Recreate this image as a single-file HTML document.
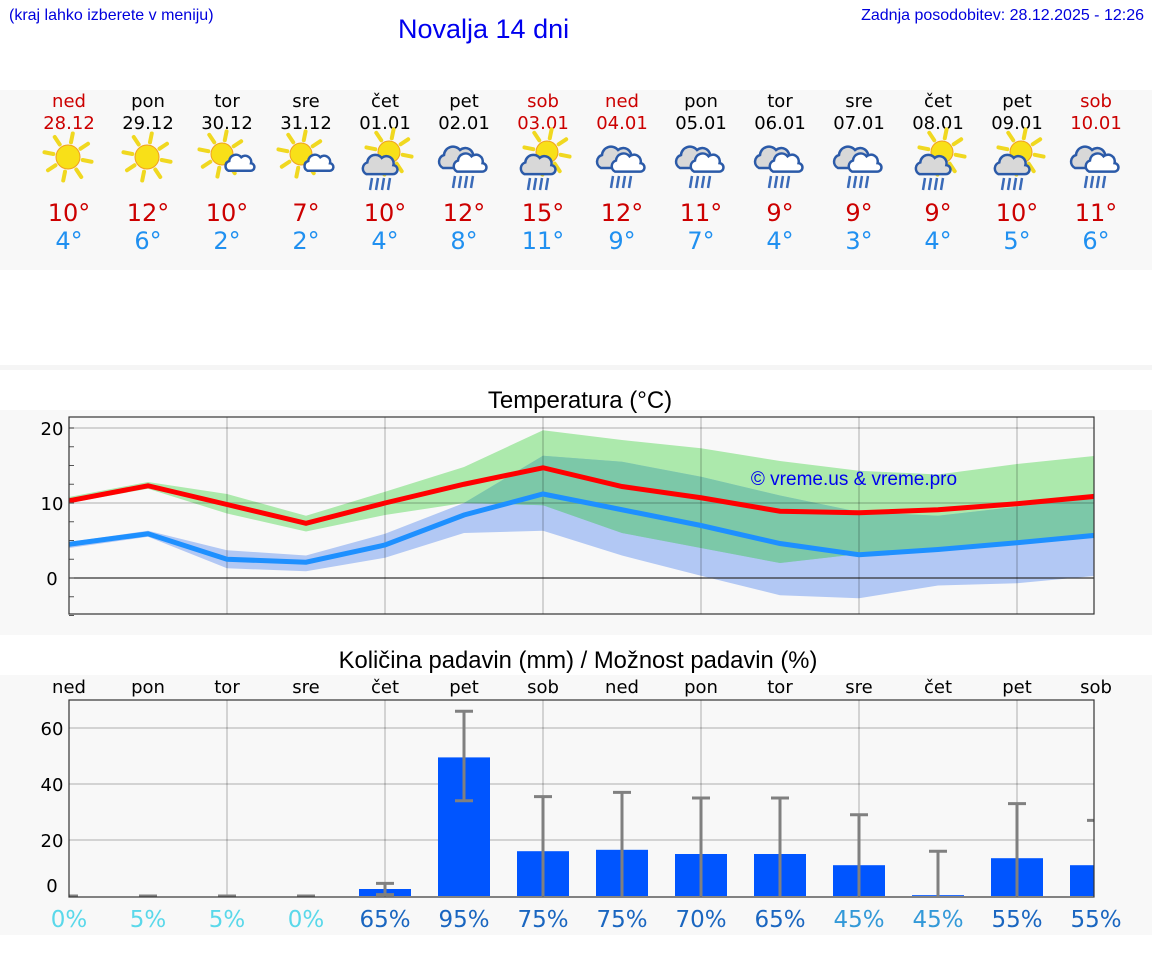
<!DOCTYPE html>
<html><head><meta charset="utf-8">
<style>
body{margin:0;width:1152px;height:975px;background:#fff;position:relative;overflow:hidden;font-family:"DejaVu Sans","Liberation Sans",sans-serif;}
.abs{position:absolute;}
</style></head><body>
<div class="abs" style="left:9px;top:7px;font:16px 'Liberation Sans',sans-serif;color:#0000dd;">(kraj lahko izberete v meniju)</div>
<div class="abs" style="left:398px;top:14px;font:27px 'Liberation Sans',sans-serif;color:#0000ee;">Novalja 14 dni</div>
<div class="abs" style="right:8px;top:7px;font:16px 'Liberation Sans',sans-serif;color:#0000dd;">Zadnja posodobitev: 28.12.2025 - 12:26</div>
<div class="abs" style="left:0;top:90px;width:1152px;height:180px;background:#f8f8f8;"></div>
<div class="abs" style="left:0;top:365px;width:1152px;height:5px;background:#f5f5f5;"></div>
<div class="abs" style="left:0;top:410px;width:1152px;height:225px;background:#f8f8f8;"></div>
<div class="abs" style="left:0;top:675px;width:1152px;height:260px;background:#f8f8f8;"></div>
<svg id="svg" class="abs" style="left:0;top:0" width="1152" height="975"></svg>
<script>
const days=["ned","pon","tor","sre","čet","pet","sob","ned","pon","tor","sre","čet","pet","sob"];
const dates=["28.12","29.12","30.12","31.12","01.01","02.01","03.01","04.01","05.01","06.01","07.01","08.01","09.01","10.01"];
const weekend=[1,0,0,0,0,0,1,1,0,0,0,0,0,1];
const icons=["sun","sun","suncloud","suncloud","sunrain","rain","sunrain","rain","rain","rain","rain","sunrain","sunrain","rain"];
const maxT=[10,12,10,7,10,12,15,12,11,9,9,9,10,11];
const minT=[4,6,2,2,4,8,11,9,7,4,3,4,5,6];
const maxLine=[10.3,12.3,9.8,7.3,10,12.5,14.7,12.2,10.7,8.9,8.7,9.1,9.9,10.9];
const minLine=[4.5,5.9,2.5,2.1,4.4,8.4,11.2,9.1,7,4.6,3.1,3.8,4.7,5.7];
const maxHi=[10.8,12.8,11.2,8.3,11.5,14.8,19.7,18.4,17.3,15.6,14.3,13.8,15.2,16.3];
const maxLo=[10,11.9,8.6,6.2,8.4,10,9.7,6,4,2,3.2,4,4.8,5.5];
const minHi=[4.8,6.3,3.7,3,5.9,10,16.3,15.5,13.5,11,8.8,8.3,9.5,10.8];
const minLo=[4,5.5,1.3,0.9,2.7,6,6.3,3,0.3,-2.3,-2.7,-1,-0.7,0.3];
const tempTicks=[0,10,20];
const precip=[0,0,0,0,2.5,49.5,16,16.5,15,15,11,0.3,13.5,11];
const errHi=[0,0,0,0,4.5,66,35.5,37,35,35,29,16,33,27];
const errLo=[0,0,0,0,0.5,34,0,0,0,0,0,0,0,0];
const chance=[0,5,5,0,65,95,75,75,70,65,45,45,55,55];
const precipTicks=[0,20,40,60];

const NS="http://www.w3.org/2000/svg";
const svg=document.getElementById('svg');
function el(t,a,p){const e=document.createElementNS(NS,t);for(const k in a)e.setAttribute(k,a[k]);(p||svg).appendChild(e);return e;}
function txt(x,y,s,a){const e=el('text',Object.assign({x:x,y:y,'text-anchor':'middle'},a));e.textContent=s;return e;}
const X=i=>69+i*79;
const L=69,R=1094;
function sun(g,cx,cy,r){
  for(let k=0;k<8;k++){const a=k*Math.PI/4+0.2;
    el('line',{x1:cx+Math.cos(a)*(r+3),y1:cy+Math.sin(a)*(r+3),x2:cx+Math.cos(a)*(r+12),y2:cy+Math.sin(a)*(r+12),stroke:'#f0d820','stroke-width':4,'stroke-linecap':'round'},g);}
  el('circle',{cx:cx,cy:cy,r:r,fill:'#f8e018',stroke:'#f0a020','stroke-width':1},g);
}
function cloud(g,cx,cy,s,fill){
  const d=`M${cx-14*s} ${cy+9*s} a${7*s} ${7*s} 0 0 1 ${1*s} ${-13*s} a${9*s} ${9*s} 0 0 1 ${16*s} ${-5*s} a${8*s} ${8*s} 0 0 1 ${13*s} ${8*s} a${5*s} ${5*s} 0 0 1 ${-1*s} ${10*s} z`;
  el('path',{d:d,fill:fill,stroke:'#2b5aa8','stroke-width':2.5},g);
}
function rain(g,cx,cy){
  for(let k=0;k<4;k++)el('line',{x1:cx-9+k*6,y1:cy,x2:cx-11+k*6,y2:cy+12,stroke:'#3a6ab8','stroke-width':2.5},g);
}
for(let i=0;i<14;i++){
  const x=X(i);
  const c=weekend[i]?'#cc0000':'#000';
  let t=txt(x,107,days[i],{'font-size':18,fill:c});
  
  t=txt(x,129,dates[i],{'font-size':18,fill:c});
  
  const g=el('g',{});
  
  
  const ic=icons[i];
  if(ic==='sun')sun(g,x-1,157,12);
  else if(ic==='suncloud'){sun(g,x-5,154,11);cloud(g,x+12,164,0.75,'#fff');}
  else if(ic==='sunrain'){sun(g,x+4,152,11);cloud(g,x-6,166,0.9,'#d8d8d8');rain(g,x-4,178);}
  else {cloud(g,x-7,159,1.0,'#d8d8d8');cloud(g,x+5,164,0.85,'#fff');rain(g,x,176);}
  t=txt(x,221,maxT[i]+'°',{'font-size':24,fill:'#cc0000'});
  
  t=txt(x,249,minT[i]+'°',{'font-size':24,fill:'#2090f0'});
  
}
const TT=417,TB=614;
const ty=v=>578-v*7.5;
let t=txt(580,408,'Temperatura (°C)',{'font-size':24,fill:'#000','font-family':'Liberation Sans, sans-serif'});

el('rect',{x:L,y:TT,width:R-L,height:TB-TT,fill:'#f8f8f8'});
const defs=el('defs',{});
const cp=el('clipPath',{id:'tc'},defs);el('rect',{x:L,y:TT,width:R-L,height:TB-TT},cp);
const cp2=el('clipPath',{id:'pc'},defs);el('rect',{x:L,y:700,width:R-L,height:197},cp2);
const tg=el('g',{'clip-path':'url(#tc)'});
for(let v=-5;v<=20;v+=2.5)el('line',{x1:L,x2:L+5,y1:ty(v),y2:ty(v),stroke:'#555','stroke-width':1});
function band(hi,lo,fill,name){
  let d='M'+hi.map((v,i)=>X(i)+' '+ty(v)).join('L')+'L'+lo.map((v,i)=>X(i)+' '+ty(v)).reverse().join('L')+'Z';
  const p=el('path',{d:d,fill:fill},tg);
  
}
band(maxHi,maxLo,'#ace9ac','max-temp-band');
band(minHi,minLo,'rgba(120,160,240,0.55)','min-temp-band');
const ov=el('g',{},tg);
{const hi=minHi.map((v,i)=>Math.min(v,maxHi[i])),lo=maxLo.map((v,i)=>Math.max(v,minLo[i]));
 let d='M'+hi.map((v,i)=>X(i)+' '+ty(v)).join('L')+'L'+lo.map((v,i)=>X(i)+' '+ty(Math.min(v,hi[i]))).reverse().join('L')+'Z';
 el('path',{d:d,fill:'#7cc8a8'},ov);}
for(const v of tempTicks){el('line',{x1:L,x2:R,y1:ty(v),y2:ty(v),stroke:v===0?'#333':'rgba(0,0,0,0.15)','stroke-width':v===0?1.2:2},tg);
  t=txt(52,ty(v)+7,String(v),{'font-size':18,fill:'#000'});}
for(let i=2;i<14;i+=2)el('line',{x1:X(i),x2:X(i),y1:TT,y2:TB,stroke:'rgba(0,0,0,0.15)','stroke-width':2},tg);
let p=el('polyline',{points:maxLine.map((v,i)=>X(i)+','+ty(v)).join(' '),fill:'none',stroke:'#ff0000','stroke-width':5},tg);

p=el('polyline',{points:minLine.map((v,i)=>X(i)+','+ty(v)).join(' '),fill:'none',stroke:'#1e90ff','stroke-width':5},tg);

t=txt(854,485,'© vreme.us & vreme.pro',{'font-size':19,fill:'#0000ee','font-family':'Liberation Sans, sans-serif'});

el('rect',{x:L,y:TT,width:R-L,height:TB-TT,fill:'none',stroke:'#333','stroke-width':1.2});
const py=v=>896-v*2.8;
t=txt(578,668,'Količina padavin (mm) / Možnost padavin (%)',{'font-size':23.8,fill:'#000','font-family':'Liberation Sans, sans-serif'});

for(let i=0;i<14;i++){t=txt(X(i),693,days[i],{'font-size':18,fill:'#000'});}
el('rect',{x:L,y:700,width:R-L,height:197,fill:'#f8f8f8'});
const pg=el('g',{'clip-path':'url(#pc)'});
for(const v of precipTicks){ if(v>0)el('line',{x1:L,x2:R,y1:py(v),y2:py(v),stroke:'rgba(0,0,0,0.15)','stroke-width':2},pg);
  t=txt(52,py(v)+(v===0?-4:7),String(v),{'font-size':18,fill:'#000'});}
for(let i=2;i<14;i+=2)el('line',{x1:X(i),x2:X(i),y1:700,y2:897,stroke:'rgba(0,0,0,0.15)','stroke-width':2},pg);
for(let i=0;i<14;i++){
  const x=X(i);
  if(precip[i]>0){const r=el('rect',{x:x-26,y:py(precip[i]),width:52,height:py(0)-py(precip[i]),fill:'#0055ff'},pg);
    }
  const hi=errHi[i],lo=errLo[i];
  const e=el('g',{},pg);
  
  el('line',{x1:x,x2:x,y1:py(hi),y2:py(lo),stroke:'#808080','stroke-width':3},e);
  el('line',{x1:x-9,x2:x+9,y1:py(hi),y2:py(hi),stroke:'#808080','stroke-width':3},e);
  if(lo>0)el('line',{x1:x-9,x2:x+9,y1:py(lo),y2:py(lo),stroke:'#808080','stroke-width':3},e);
  const pc=chance[i];
  const col=pc<30?'#5ad8ea':pc<50?'#3399d8':'#1a66c0';
  t=txt(x,927,pc+'%',{'font-size':23,fill:col});
}
el('rect',{x:L,y:700,width:R-L,height:197,fill:'none',stroke:'#333','stroke-width':1.2});
</script>
</body></html>
